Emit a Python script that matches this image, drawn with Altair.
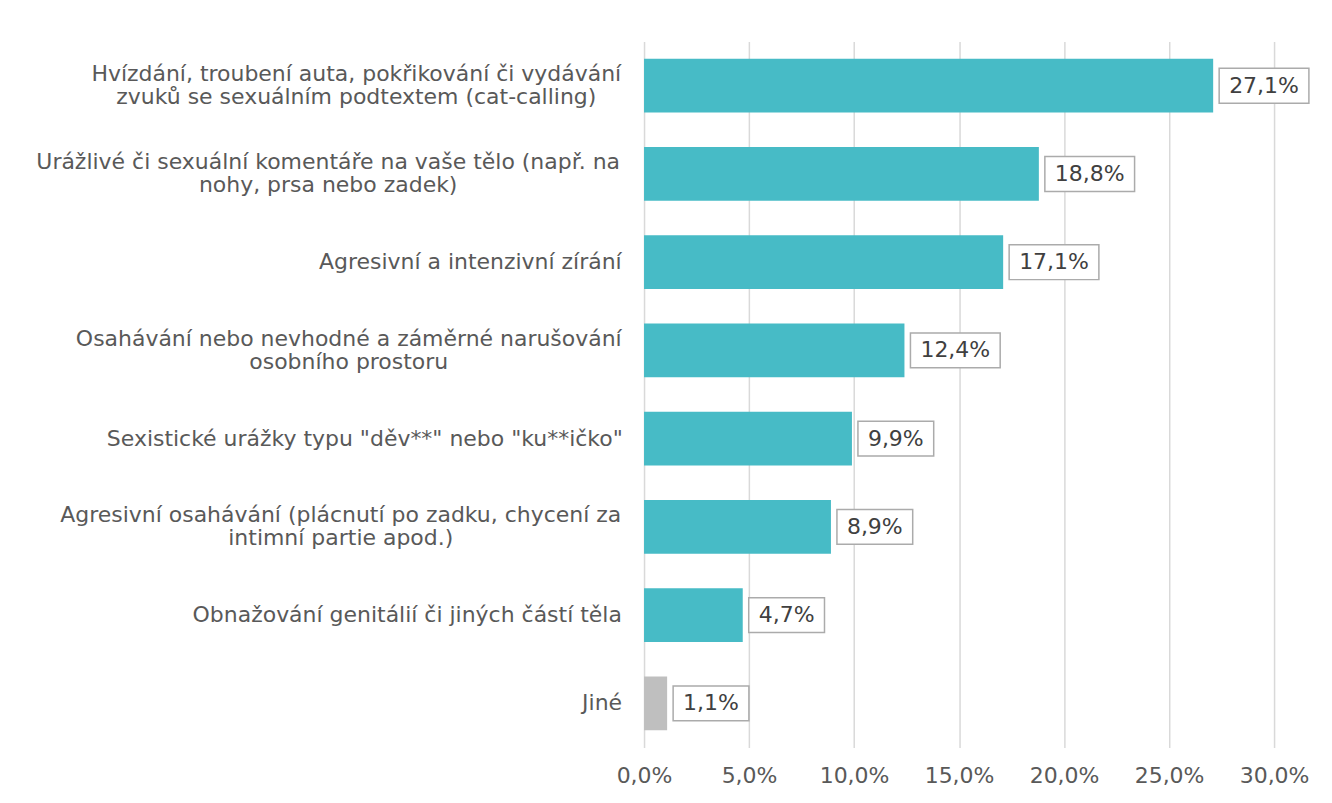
import unicodedata
import altair as alt
import pandas as pd

# ---- data ----
categories = [
    "Hvízdání, troubení auta, pokřikování či vydávání|zvuků se sexuálním podtextem (cat-calling)",
    "Urážlivé či sexuální komentáře na vaše tělo (např. na|nohy, prsa nebo zadek)",
    "Agresivní a intenzivní zírání",
    "Osahávání nebo nevhodné a záměrné narušování|osobního prostoru",
    'Sexistické urážky typu "děv**" nebo "ku**ičko"',
    "Agresivní osahávání (plácnutí po zadku, chycení za|intimní partie apod.)",
    "Obnažování genitálií či jiných částí těla",
    "Jiné",
]
values = [27.1, 18.8, 17.1, 12.4, 9.9, 8.9, 4.7, 1.1]
groups = ["main", "main", "main", "main", "main", "main", "main", "other"]
x_ticks = [0, 5, 10, 15, 20, 25, 30]

# ---- layout / style ----
W, H = 631, 707
FONT = "DejaVu Sans"
FS = 22
LH = 23
PXU = W / 30.0
LABEL_GAP = 22

# DejaVu Sans advance widths (em)
_w = {
    " ": .318, "a": .613, "b": .635, "c": .550, "d": .635, "e": .615, "f": .352,
    "g": .635, "h": .634, "i": .278, "j": .278, "k": .579, "l": .278, "m": .974,
    "n": .634, "o": .612, "p": .635, "q": .635, "r": .411, "s": .521, "t": .392,
    "u": .634, "v": .592, "w": .818, "x": .592, "y": .592, "z": .525,
    "A": .684, "H": .752, "O": .787, "U": .732, "S": .635, "J": .295,
    ",": .318, ".": .318, "(": .390, ")": .390, "-": .361, '"': .400, "*": .500,
    "%": .950, "0": .636, "1": .636, "2": .636, "3": .636, "4": .636,
    "5": .636, "6": .636, "7": .636, "8": .636, "9": .636,
}


def text_w(s, size=FS):
    tot = 0.0
    for ch in s:
        b = unicodedata.normalize("NFD", ch)[0]
        tot += _w.get(b, 0.6)
    return tot * size


def fmt(v):
    return f"{v:.1f}".replace(".", ",") + "%"


rows = []
for c, v, g in zip(categories, values, groups):
    lines = c.split("|")
    wmax = max(text_w(l) for l in lines)
    lab = fmt(v)
    rows.append({
        "cat": c,
        "v": v,
        "grp": g,
        "lab": lab,
        "cx": -(LABEL_GAP + wmax / 2.0) / PXU,
        "bx2": v + (text_w(lab) + 20) / PXU,
    })
df = pd.DataFrame(rows)

yscale = alt.Scale(domain=categories, paddingInner=0.39, paddingOuter=0.195)
xscale = alt.Scale(domain=[0, 30], nice=False, zero=True)

base = alt.Chart(df)

bars = base.mark_bar().encode(
    x=alt.X("v:Q", scale=xscale,
            axis=alt.Axis(values=x_ticks, title=None, domain=False, ticks=False,
                          grid=True, gridColor="#D9D9D9", gridWidth=1.5,
                          labelExpr="replace(format(datum.value, '.1f'), '.', ',') + '%'",
                          labelFont=FONT, labelFontSize=FS, labelColor="#595959",
                          labelFlush=False, labelPadding=18)),
    y=alt.Y("cat:N", scale=yscale, sort=categories,
            axis=alt.Axis(labels=False, ticks=False, domain=False, title=None, grid=False)),
    color=alt.Color("grp:N", scale=alt.Scale(domain=["main", "other"],
                                             range=["#47BBC6", "#BFBFBF"]), legend=None),
)

boxes = base.mark_bar(height=35, fill="white", stroke="#ABABAB", strokeWidth=1.5,
                      xOffset=6, x2Offset=6).encode(
    x=alt.X("v:Q", scale=xscale),
    x2="bx2:Q",
    y=alt.Y("cat:N", scale=yscale, sort=categories),
)

vlabels = base.mark_text(align="left", baseline="middle", dx=16, font=FONT,
                         fontSize=FS, color="#404040").encode(
    x=alt.X("v:Q", scale=xscale),
    y=alt.Y("cat:N", scale=yscale, sort=categories),
    text="lab:N",
)


def ylabel_layer(multi):
    flt = "indexof(datum.cat, '|') >= 0" if multi else "indexof(datum.cat, '|') < 0"
    return base.transform_filter(flt).transform_calculate(
        lines="split(datum.cat, '|')"
    ).mark_text(align="center", baseline="middle", font=FONT, fontSize=FS,
                lineHeight=LH, dy=-LH / 2.0 if multi else 0, color="#595959").encode(
        x=alt.X("cx:Q", scale=xscale),
        y=alt.Y("cat:N", scale=yscale, sort=categories),
        text="lines:N",
    )


chart = alt.layer(bars, boxes, vlabels, ylabel_layer(False), ylabel_layer(True)).properties(
    width=W, height=H,
    autosize=alt.AutoSizeParams(type="none"),
    padding={"left": 637, "top": 33, "right": 50, "bottom": 50},
    background="white",
).configure_view(stroke=None)

chart.save("out.html", embed_options={"renderer": "svg", "actions": False})
